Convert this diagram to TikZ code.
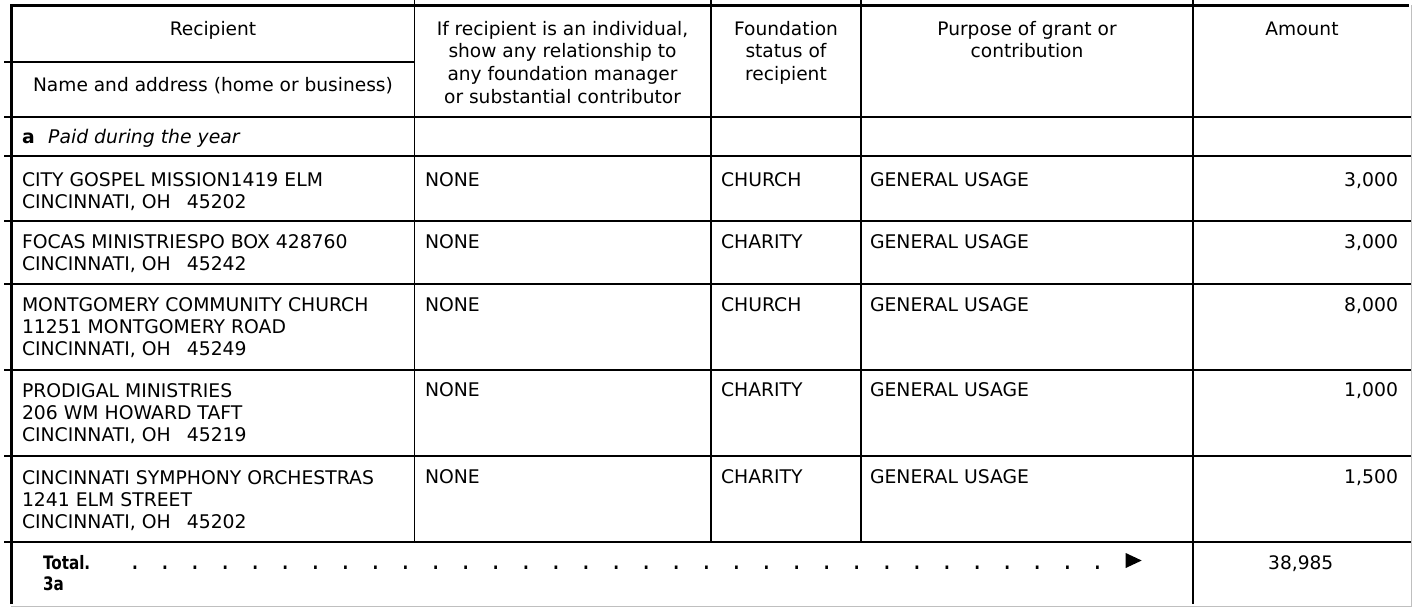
\documentclass[tikz,border=0pt]{standalone}
\usepackage{fontspec}
\setmainfont{DejaVu Sans}
\newfontfamily\narrowfam[FakeStretch=0.82]{DejaVu Sans}
\begin{document}
\begin{tikzpicture}[x=1pt,y=-1pt,
  txt/.style={inner sep=0pt,outer sep=0pt,anchor=base west,align=left,font=\fontsize{18.8}{22}\selectfont},
  hdr/.style={inner sep=0pt,outer sep=0pt,anchor=base,align=center,font=\fontsize{18.6}{22.7}\selectfont},
  amt/.style={inner sep=0pt,outer sep=0pt,anchor=base east,font=\fontsize{18.8}{22}\selectfont},
  tot/.style={inner sep=0pt,outer sep=0pt,anchor=base west,align=left,font=\fontsize{18.5}{21}\selectfont\narrowfam\bfseries},
  leader/.style={inner sep=0pt,outer sep=0pt,anchor=base,font=\fontsize{18.5}{21}\selectfont\narrowfam\bfseries},
  border/.style={line width=3pt,black},
  hrule/.style={line width=2pt,black},
  subrule/.style={line width=1.5pt,black},
  vrule/.style={line width=1.8pt,black},
  edge/.style={line width=0.8pt,black!25}
]
\fill[white] (0,0) rectangle (1412,608);
\useasboundingbox (0,0) rectangle (1412,608);
% column separators
\draw[vrule] (414.5,0) -- (414.5,541.5);
\draw[vrule] (711,0) -- (711,541.5);
\draw[vrule] (861,0) -- (861,541.5);
\draw[vrule] (1193,0) -- (1193,604);
% row lines
\draw[subrule] (4,62) -- (414.5,62);
\foreach \yy in {117,156,221,284,370,456,541.5}
  \draw[hrule] (4,\yy) -- (1411,\yy);
% faint right and bottom edges
\draw[edge] (1411,5) -- (1411,606.5);
\draw[edge] (11,606.5) -- (1411,606.5);
% outer borders
\draw[border] (11,604) -- (11,5) -- (1409,5);
% header (anchor = baseline of the last line)
\node[hdr] (hrec) at (213,35) {Recipient};
\node[hdr] (hname) at (213,91) {Name and address (home or business)};
\node[hdr] (hrel) at (562.5,103.1) {If recipient is an individual,\\show any relationship to\\any foundation manager\\or substantial contributor};
\node[hdr] (hstat) at (786,80.4) {Foundation\\status of\\recipient};
\node[hdr] (hpurp) at (1027,57.7) {Purpose of grant or\\contribution};
\node[hdr] (hamt) at (1302,35) {Amount};
% section a
\node[txt] (seca) at (22,143) {\textbf{a}\hspace{13.5pt}\textit{Paid during the year}};
% rows (multi-line names placed by the baseline of their last line)
\node[txt] (r1n) at (22,208.5) {CITY GOSPEL MISSION1419 ELM\\CINCINNATI, OH\hspace{16pt}45202};
\node[txt] (r1r) at (425,186.5) {NONE};
\node[txt] (r1s) at (721,186.5) {CHURCH};
\node[txt] (r1p) at (870,186.5) {GENERAL USAGE};
\node[amt] (r1a) at (1398,186.5) {3,000};
\node[txt] (r2n) at (22,270.5) {FOCAS MINISTRIESPO BOX 428760\\CINCINNATI, OH\hspace{16pt}45242};
\node[txt] (r2r) at (425,248.5) {NONE};
\node[txt] (r2s) at (721,248.5) {CHARITY};
\node[txt] (r2p) at (870,248.5) {GENERAL USAGE};
\node[amt] (r2a) at (1398,248.5) {3,000};
\node[txt] (r3n) at (22,355.5) {MONTGOMERY COMMUNITY CHURCH\\11251 MONTGOMERY ROAD\\CINCINNATI, OH\hspace{16pt}45249};
\node[txt] (r3r) at (425,311.5) {NONE};
\node[txt] (r3s) at (721,311.5) {CHURCH};
\node[txt] (r3p) at (870,311.5) {GENERAL USAGE};
\node[amt] (r3a) at (1398,311.5) {8,000};
\node[txt] (r4n) at (22,441.5) {PRODIGAL MINISTRIES\\206 WM HOWARD TAFT\\CINCINNATI, OH\hspace{16pt}45219};
\node[txt] (r4r) at (425,396.5) {NONE};
\node[txt] (r4s) at (721,396.5) {CHARITY};
\node[txt] (r4p) at (870,396.5) {GENERAL USAGE};
\node[amt] (r4a) at (1398,396.5) {1,000};
\node[txt] (r5n) at (22,528.5) {CINCINNATI SYMPHONY ORCHESTRAS\\1241 ELM STREET\\CINCINNATI, OH\hspace{16pt}45202};
\node[txt] (r5r) at (425,483.5) {NONE};
\node[txt] (r5s) at (721,483.5) {CHARITY};
\node[txt] (r5p) at (870,483.5) {GENERAL USAGE};
\node[amt] (r5a) at (1398,483.5) {1,500};
% total
\node[tot] (total) at (43,590) {Total.\\3a};
\foreach \k in {0,...,32}
  \node[leader] (dot\k) at (134.9+30.08*\k,569) {.};
\fill (1125.7,553) -- (1141.7,560.5) -- (1125.7,568) -- cycle;
\node[hdr] (totamt) at (1300.7,569) {38,985};
\end{tikzpicture}
\end{document}
